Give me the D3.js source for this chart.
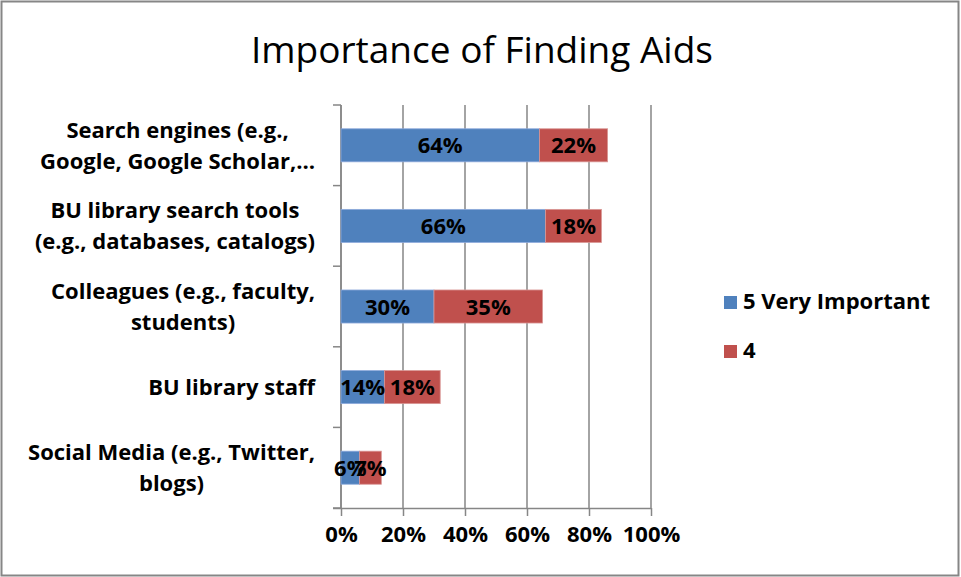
<!DOCTYPE html>
<html>
<head>
<meta charset="utf-8">
<script src="https://cdn.jsdelivr.net/npm/d3@7"></script>
<style>
  body { margin: 0; background: #fff; }
  svg { display: block; }
</style>
</head>
<body>
<div id="chart"></div>
<script>
// data
const categories = [
  ["Search engines (e.g.,", "Google, Google Scholar,\u2026"],
  ["BU library search tools", "(e.g., databases, catalogs)"],
  ["Colleagues (e.g., faculty,", "students)"],
  ["BU library staff"],
  ["Social Media (e.g., Twitter,", "blogs)"]
];
const veryImportant = [64, 66, 30, 14, 6];
const four = [22, 18, 35, 18, 7];
const seriesNames = ["5 Very Important", "4"];
const colors = ["#4F81BD", "#C0504D"];
const xTicks = [0, 20, 40, 60, 80, 100];

const width = 961, height = 577;
const font = "'Open Sans', sans-serif";
const fs = "22px";

const svg = d3.select("#chart")
  .append("svg")
  .attr("width", width)
  .attr("height", height)
  .style("font-family", font);

// outer frame
svg.append("rect")
  .attr("x", 1.5).attr("y", 1.5)
  .attr("width", width - 4).attr("height", height - 3)
  .attr("fill", "#fff")
  .attr("stroke", "#868686")
  .attr("stroke-width", 2);

// title
svg.append("text")
  .attr("x", 482).attr("y", 63)
  .attr("text-anchor", "middle")
  .style("font-size", "37px")
  .attr("fill", "#000")
  .text("Importance of Finding Aids");

const plot = { left: 341, right: 651, top: 105, bottom: 508 };

const x = d3.scaleLinear().domain([0, 100]).range([plot.left, plot.right]);
const y = d3.scaleBand()
  .domain(d3.range(categories.length))
  .range([plot.top, plot.bottom])
  .paddingInner(0.59)
  .paddingOuter(0.295);

const grid = "#868686";

// vertical gridlines
svg.selectAll("line.grid")
  .data(xTicks)
  .enter()
  .append("line")
  .attr("class", "grid")
  .attr("x1", d => x(d)).attr("x2", d => x(d))
  .attr("y1", plot.top).attr("y2", plot.bottom)
  .attr("stroke", grid).attr("stroke-width", 1.5);

// x axis
const xAxis = svg.append("g")
  .attr("transform", `translate(0,${plot.bottom})`)
  .call(d3.axisBottom(x).tickValues(xTicks).tickSize(8).tickFormat(d => d + "%"));
xAxis.select(".domain").attr("stroke", grid).attr("stroke-width", 1.5)
  .attr("d", `M${plot.left - 8},0.5H${plot.right}`);
xAxis.selectAll(".tick line").attr("stroke", grid).attr("stroke-width", 1.5);
xAxis.selectAll(".tick text")
  .attr("y", 34)
  .attr("dy", 0)
  .attr("fill", "#000")
  .style("font-family", font)
  .style("font-size", fs)
  .style("font-weight", "bold");

// y axis with ticks at band boundaries
const boundaries = d3.range(categories.length + 1).map(i => plot.top + i * y.step());
svg.append("line")
  .attr("x1", plot.left).attr("x2", plot.left)
  .attr("y1", plot.top).attr("y2", plot.bottom)
  .attr("stroke", grid).attr("stroke-width", 1.5);
svg.selectAll("line.ytick")
  .data(boundaries)
  .enter()
  .append("line")
  .attr("class", "ytick")
  .attr("x1", plot.left - 8).attr("x2", plot.left)
  .attr("y1", d => d).attr("y2", d => d)
  .attr("stroke", grid).attr("stroke-width", 1.5);

// stacked bars
const rows = categories.map((c, i) => ({ i, vals: [veryImportant[i], four[i]] }));
const segs = [];
rows.forEach(r => {
  let start = 0;
  r.vals.forEach((v, s) => {
    segs.push({ i: r.i, s, v, x0: start, x1: start + v });
    start += v;
  });
});

svg.selectAll("rect.bar")
  .data(segs)
  .enter()
  .append("rect")
  .attr("class", "bar")
  .attr("x", d => x(d.x0))
  .attr("y", d => y(d.i))
  .attr("width", d => x(d.x1) - x(d.x0))
  .attr("height", y.bandwidth())
  .attr("fill", d => colors[d.s])
  .attr("stroke", d => d.s === 0 ? "#8EAADB" : "#D99694")
  .attr("stroke-width", 0.8);

svg.selectAll("text.val")
  .data(segs)
  .enter()
  .append("text")
  .attr("class", "val")
  .attr("x", d => x((d.x0 + d.x1) / 2))
  .attr("y", d => y(d.i) + y.bandwidth() / 2 + 8)
  .attr("text-anchor", "middle")
  .style("font-size", fs)
  .style("font-weight", "bold")
  .attr("fill", "#000")
  .text(d => d.v + "%");

// category labels, centred lines, block right-aligned
const lineH = 31;
const labelRight = 315;
categories.forEach((lines, i) => {
  const t = svg.append("text")
    .style("font-size", fs)
    .style("font-weight", "bold")
    .attr("fill", "#000")
    .attr("text-anchor", "middle");
  const cy = y(i) + y.bandwidth() / 2;
  const first = cy - (lines.length - 1) * lineH / 2 + 8;
  const spans = lines.map((l, k) => t.append("tspan").attr("y", first + k * lineH).text(l));
  const w = d3.max(spans, s => s.node().getComputedTextLength());
  spans.forEach(s => s.attr("x", labelRight - w / 2));
});

// legend
const legend = svg.selectAll("g.legend")
  .data(seriesNames)
  .enter()
  .append("g")
  .attr("class", "legend")
  .attr("transform", (d, i) => `translate(724,${296 + i * 49})`);
legend.append("rect")
  .attr("width", 13).attr("height", 13)
  .attr("fill", (d, i) => colors[i]);
legend.append("text")
  .attr("x", 19).attr("y", 13)
  .style("font-size", fs)
  .style("font-weight", "bold")
  .attr("fill", "#000")
  .text(d => d);
</script>
</body>
</html>
